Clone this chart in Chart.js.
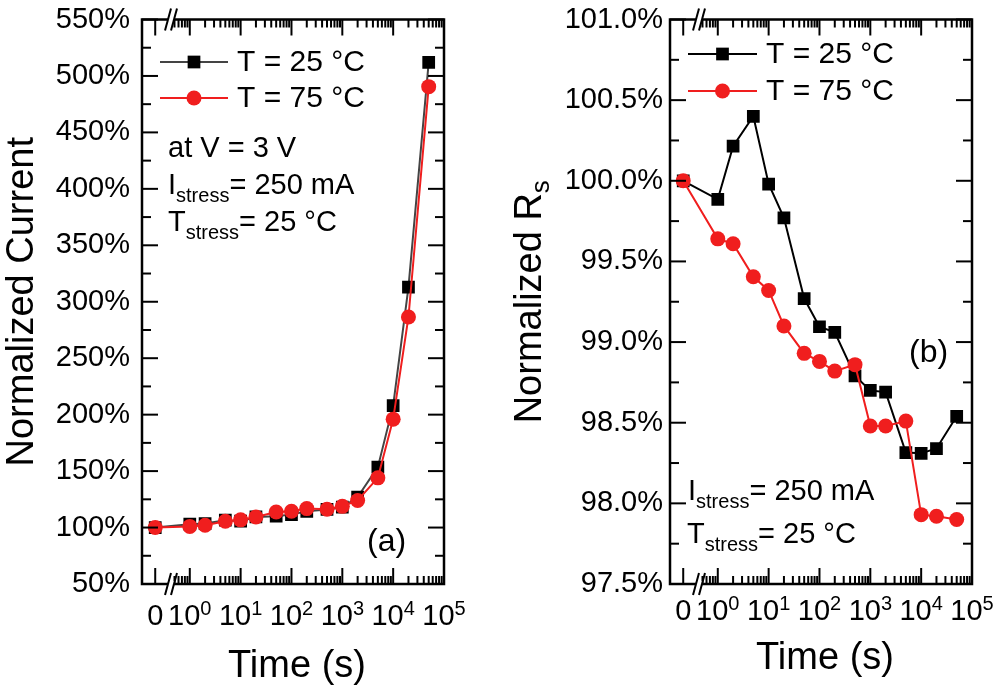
<!DOCTYPE html>
<html lang="en">
<head>
<meta charset="UTF-8">
<script src="https://cdn.jsdelivr.net/npm/chart.js"></script>
<style>
    body { margin: 0; background: #fff; }
    .panel { position: absolute; top: 0; width: 500px; height: 688px; }
</style>
</head>
<body>
<div class="panel" style="left:0"><canvas id="chartA"></canvas></div>
<div class="panel" style="left:500px"><canvas id="chartB"></canvas></div>
<script>
// stress time in seconds (0 = before stress)
const TIMES = [0, 1, 2, 5, 10, 20, 50, 100, 200, 500, 1000, 2000, 5000, 10000, 20000, 50000];

// (a) normalized current at 3 V, %
const CURRENT_25C = [100, 103, 103.5, 106.5, 105.6, 109.4, 110, 111.5, 114.4, 116, 118, 127, 153.5, 208, 313, 512];
const CURRENT_75C = [100, 101, 102, 105.6, 106.8, 109.4, 113.8, 114.4, 116.8, 116.2, 118.8, 124, 144, 196, 286.5, 490.5];

// (b) normalized series resistance, %
const RS_25C = [100.0, 99.885, 100.215, 100.40, 99.98, 99.77, 99.27, 99.095, 99.06, 98.79, 98.70, 98.69, 98.315, 98.31, 98.34, 98.54];
const RS_75C = [100.0, 99.64, 99.61, 99.405, 99.32, 99.10, 98.93, 98.88, 98.82, 98.86, 98.48, 98.48, 98.51, 97.93, 97.92, 97.90];

const SERIES_LABELS = ['T = 25 °C', 'T = 75 °C'];

// broken x axis: "0" sits left of the break, then log decades
const ZERO_POS = -0.68;
const BREAK_POS = -0.35;
const X_TICK_VALUES = [ZERO_POS, 0, 1, 2, 3, 4, 5];
const X_TICK_LABELS = ['0', '10^0', '10^1', '10^2', '10^3', '10^4', '10^5'];

const FONT = '"Liberation Sans", Arial, Helvetica, sans-serif';
const RED = '#f01e1e';

Chart.defaults.font.family = FONT;
Chart.defaults.color = '#000';

const toX = t => t === 0 ? ZERO_POS : Math.log10(t);
const pts = ys => TIMES.map((t, i) => ({ x: toX(t), y: ys[i] }));

// text made of [string, 'sub'|'sup'|''] parts
function richWidth(ctx, parts, size, small) {
    let w = 0;
    parts.forEach(([s, mode]) => {
        ctx.font = (mode ? small : size) + 'px ' + FONT;
        w += ctx.measureText(s).width;
    });
    return w;
}
function drawRich(ctx, parts, x, y, size, small, shift) {
    let cx = x;
    parts.forEach(([s, mode]) => {
        ctx.font = (mode ? small : size) + 'px ' + FONT;
        let dy = mode === 'sub' ? shift : mode === 'sup' ? -shift : 0;
        ctx.fillText(s, cx, y + dy);
        cx += ctx.measureText(s).width;
    });
}

const decor = {
    id: 'decor',
    afterDraw(chart, args, o) {
        const { ctx, chartArea: a } = chart;
        const x = chart.scales.x, y = chart.scales.y;
        ctx.save();
        ctx.strokeStyle = '#000';
        ctx.fillStyle = '#000';
        ctx.lineWidth = 2;
        const seg = (x1, y1, x2, y2) => { ctx.beginPath(); ctx.moveTo(x1, y1); ctx.lineTo(x2, y2); ctx.stroke(); };

        // inward ticks on left/right
        const yt = y.ticks.map(t => t.value);
        yt.forEach((v, i) => {
            const p = y.getPixelForValue(v);
            seg(a.left, p, a.left + 16, p);
            seg(a.right, p, a.right - 16, p);
            if (i < yt.length - 1) {
                const m = y.getPixelForValue((v + yt[i + 1]) / 2);
                seg(a.left, m, a.left + 9, m);
                seg(a.right, m, a.right - 9, m);
            }
        });
        // inward ticks on bottom/top
        X_TICK_VALUES.forEach(v => {
            const p = x.getPixelForValue(v);
            seg(p, a.bottom, p, a.bottom - 16);
            seg(p, a.top, p, a.top + 16);
        });
        for (let d = -1; d < 5; d++) {
            for (let m = 2; m < 10; m++) {
                const v = d + Math.log10(m);
                if (v < BREAK_POS + 0.04) continue;
                const p = x.getPixelForValue(v);
                seg(p, a.bottom, p, a.bottom - 8);
                seg(p, a.top, p, a.top + 8);
            }
        }
        // frame
        ctx.lineWidth = 2.5;
        ctx.strokeRect(a.left, a.top, a.width, a.height);
        // axis break marks
        const bx = x.getPixelForValue(BREAK_POS);
        [a.top, a.bottom].forEach(by => {
            ctx.fillStyle = '#fff';
            ctx.fillRect(bx - 4, by - 3, 6, 6);
            ctx.lineWidth = 2;
            seg(bx - 7, by + 11, bx - 1, by - 11);
            seg(bx - 1, by + 11, bx + 5, by - 11);
        });
        ctx.fillStyle = '#000';

        // x tick labels with superscripts
        ctx.textBaseline = 'alphabetic';
        ctx.textAlign = 'left';
        X_TICK_VALUES.forEach((v, i) => {
            const [base, exp] = X_TICK_LABELS[i].split('^');
            const parts = exp ? [[base, ''], [exp, 'sup']] : [[base, '']];
            const w = richWidth(ctx, parts, 29, 20);
            drawRich(ctx, parts, x.getPixelForValue(v) - w / 2, o.xTickY, 29, 20, 10);
        });

        // x title
        ctx.font = '38px ' + FONT;
        ctx.textAlign = 'center';
        ctx.fillText('Time (s)', (a.left + a.right) / 2 + 4, o.xTitleY);

        // y title (rotated)
        ctx.save();
        ctx.translate(o.yTitleX, (a.top + a.bottom) / 2);
        ctx.rotate(-Math.PI / 2);
        ctx.textAlign = 'left';
        const tw = richWidth(ctx, o.yTitle, 38, 26);
        drawRich(ctx, o.yTitle, -tw / 2, 13.6, 38, 26, 8);
        ctx.restore();

        // legend
        const lg = o.legend;
        chart.data.datasets.forEach((ds, i) => {
            const ly = lg.y + i * lg.dy;
            ctx.strokeStyle = ds.borderColor;
            ctx.lineWidth = 2;
            seg(lg.x, ly, lg.x + lg.len, ly);
            const mx = lg.x + lg.len / 2;
            ctx.fillStyle = ds.pointBackgroundColor;
            ctx.beginPath();
            if (ds.pointStyle === 'rect') {
                const s = ds.pointRadius * Math.SQRT1_2;
                ctx.rect(mx - s, ly - s, 2 * s, 2 * s);
            } else {
                ctx.arc(mx, ly, ds.pointRadius, 0, Math.PI * 2);
            }
            ctx.fill();
            ctx.fillStyle = '#000';
            ctx.font = '30px ' + FONT;
            ctx.textAlign = 'left';
            ctx.textBaseline = 'middle';
            ctx.fillText(ds.label, lg.x + lg.len + 9, ly + 1);
        });

        // annotations
        ctx.textBaseline = 'alphabetic';
        ctx.textAlign = 'left';
        o.notes.forEach(n => drawRich(ctx, n.parts, n.x, n.y, n.size || 29, 20, 8));
        ctx.restore();
    }
};

function makePanel(id, cfg) {
    return new Chart(document.getElementById(id), {
        type: 'line',
        data: {
            datasets: [
                {
                    label: SERIES_LABELS[0],
                    data: pts(cfg.series[0]),
                    borderColor: cfg.line25,
                    borderWidth: 2,
                    pointStyle: 'rect',
                    pointRadius: 9,
                    pointBackgroundColor: '#000',
                    pointBorderWidth: 0,
                    order: 1
                },
                {
                    label: SERIES_LABELS[1],
                    data: pts(cfg.series[1]),
                    borderColor: RED,
                    borderWidth: 2,
                    pointStyle: 'circle',
                    pointRadius: 7.5,
                    pointBackgroundColor: RED,
                    pointBorderWidth: 0,
                    order: 0
                }
            ]
        },
        options: {
            responsive: true,
            maintainAspectRatio: false,
            animation: false,
            layout: { padding: { left: 0, right: cfg.padRight, top: 19.5, bottom: 0 } },
            scales: {
                x: {
                    type: 'linear',
                    min: -0.94,
                    max: 5,
                    grid: { display: false, drawTicks: false },
                    border: { display: false },
                    ticks: { display: false },
                    afterFit: s => { s.height = 104; s.paddingLeft = 0; s.paddingRight = 0; }
                },
                y: {
                    type: 'linear',
                    min: cfg.yMin,
                    max: cfg.yMax,
                    grid: { display: false, drawTicks: false },
                    border: { display: false },
                    ticks: {
                        stepSize: cfg.yStep,
                        padding: cfg.yPad,
                        font: { size: 29 },
                        callback: cfg.yFmt
                    },
                    afterFit: s => { s.width = cfg.yWidth; s.paddingTop = 0; s.paddingBottom = 0; }
                }
            },
            plugins: {
                legend: { display: false },
                tooltip: { enabled: false },
                decor: cfg.decor
            }
        },
        plugins: [decor]
    });
}

makePanel('chartA', {
    series: [CURRENT_25C, CURRENT_75C],
    line25: '#444',
    yMin: 50, yMax: 550, yStep: 50, yPad: 12, yWidth: 142, padRight: 56,
    yFmt: v => v + '%',
    decor: {
        xTickY: 625,
        xTitleY: 677,
        yTitleX: 19,
        yTitle: [['Normalized Current', '']],
        legend: { x: 160, y: 62, dy: 36, len: 68 },
        notes: [
            { parts: [['at V = 3 V', '']], x: 168, y: 157 },
            { parts: [['I', ''], ['stress', 'sub'], ['= 250 mA', '']], x: 168, y: 194 },
            { parts: [['T', ''], ['stress', 'sub'], ['= 25 °C', '']], x: 168, y: 231 },
            { parts: [['(a)', '']], x: 367, y: 551, size: 32 }
        ]
    }
});

makePanel('chartB', {
    series: [RS_25C, RS_75C],
    line25: '#000',
    yMin: 97.5, yMax: 101, yStep: 0.5, yPad: 7, yWidth: 170, padRight: 28,
    yFmt: v => v.toFixed(1) + '%',
    decor: {
        xTickY: 620,
        xTitleY: 669,
        yTitleX: 27.5,
        yTitle: [['Normalized R', ''], ['s', 'sub']],
        legend: { x: 188, y: 54, dy: 37, len: 69 },
        notes: [
            { parts: [['I', ''], ['stress', 'sub'], ['= 250 mA', '']], x: 188, y: 500 },
            { parts: [['T', ''], ['stress', 'sub'], ['= 25 °C', '']], x: 187, y: 543 },
            { parts: [['(b)', '']], x: 409, y: 362, size: 32 }
        ]
    }
});
</script>
</body>
</html>
